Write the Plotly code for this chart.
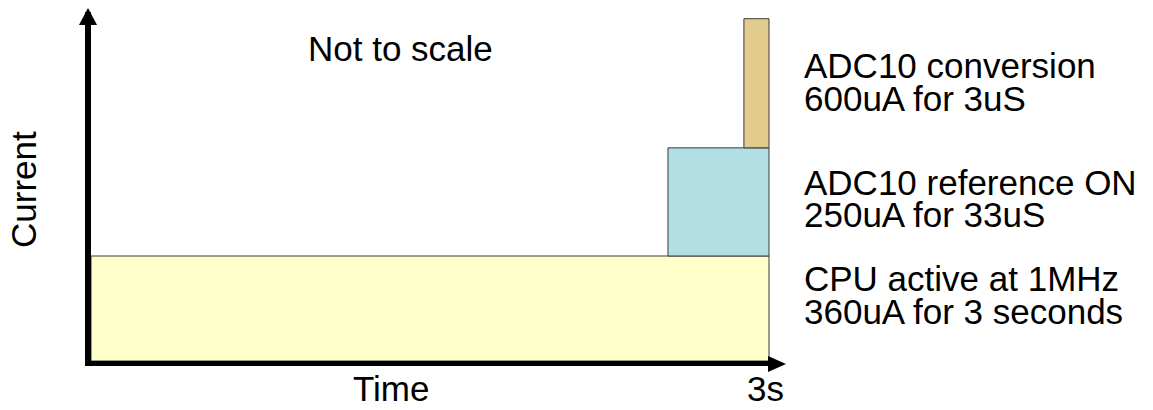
import plotly.graph_objects as go

# Schematic current profile (not to scale). Time runs 0..3 s.
phase_names = ["CPU active at 1MHz", "ADC10 reference ON", "ADC10 conversion"]
phase_details = ["360uA for 3 seconds", "250uA for 33uS", "600uA for 3uS"]
phase_start = [0.0, 2.553, 2.889]
phase_end = [3.0, 3.0, 3.0]
# drawn current levels, stacked from the bottom
phase_bottom = [0.0, 1.0, 2.03]
phase_top = [1.0, 2.03, 3.26]
phase_colors = ["#FFFFCC", "#B2DFE3", "#E2CC8D"]

W, H = 1153, 410
L, R, T, B = 91, 770, 12, 361  # plot area in pixels
FONT = "Liberation Sans, Arial, sans-serif"
FS = 35


def px(x):
    return (x - L) / (R - L)


def py(y):
    return (B - y) / (B - T)


fig = go.Figure()

# rectangles for each phase
for x0, x1, y0, y1, c in zip(phase_start, phase_end, phase_bottom, phase_top, phase_colors):
    fig.add_shape(
        type="rect", xref="x", yref="y",
        x0=x0, x1=x1, y0=y0, y1=y1,
        fillcolor=c, line=dict(color="#3a3a3a", width=1), layer="below",
    )

# invisible trace so the axes exist
fig.add_trace(go.Scatter(x=[0, 3], y=[0, 0], mode="lines",
                         line=dict(width=0), hoverinfo="skip", showlegend=False))

# arrow heads on the axes
fig.add_shape(type="path", xref="paper", yref="paper",
              path=f"M {px(79)},{py(25)} L {px(88)},{py(8)} L {px(97)},{py(25)} Z",
              fillcolor="black", line=dict(width=0))
fig.add_shape(type="path", xref="paper", yref="paper",
              path=f"M {px(768)},{py(356)} L {px(786)},{py(364)} L {px(768)},{py(372)} Z",
              fillcolor="black", line=dict(width=0))


def label(text, x, y_base, xanchor="left", angle=0):
    # y_base is the baseline pixel; shift to box middle
    fig.add_annotation(
        text=text, xref="paper", yref="paper",
        x=px(x), y=py(y_base - 0.35 * FS),
        xanchor=xanchor, yanchor="middle", showarrow=False, borderpad=0,
        textangle=angle, font=dict(family=FONT, size=FS, color="black"),
    )


# right-hand labels: (name baseline, detail baseline)
baselines = {2: (78, 111), 1: (195, 227), 0: (291, 324)}
for i in range(3):
    b1, b2 = baselines[i]
    label(phase_names[i], 803, b1)
    label(phase_details[i], 803, b2)

label("Not to scale", 400, 61, xanchor="center")
label("Time", 391, 401, xanchor="center")
label("3s", 765, 401, xanchor="center")
fig.add_annotation(
    text="Current", xref="paper", yref="paper",
    x=px(23), y=py(190), xanchor="center", yanchor="middle",
    showarrow=False, textangle=-90, borderpad=0,
    font=dict(family=FONT, size=FS, color="black"),
)

x_max = 3 * (R - L) / (769 - L)
y_max = phase_top[0] * (B - T) / (B - 256)

fig.update_layout(
    width=W, height=H,
    margin=dict(l=L, r=W - R, t=T, b=H - B, pad=0),
    plot_bgcolor="white", paper_bgcolor="white",
    showlegend=False,
    xaxis=dict(range=[0, x_max], showline=True, linecolor="black", linewidth=5,
               showgrid=False, zeroline=False, showticklabels=False, ticks=""),
    yaxis=dict(range=[0, y_max], showline=True, linecolor="black", linewidth=6,
               showgrid=False, zeroline=False, showticklabels=False, ticks=""),
)

fig.write_html("out.html", config={"displayModeBar": False},
               post_script="document.body.style.margin='0';")
